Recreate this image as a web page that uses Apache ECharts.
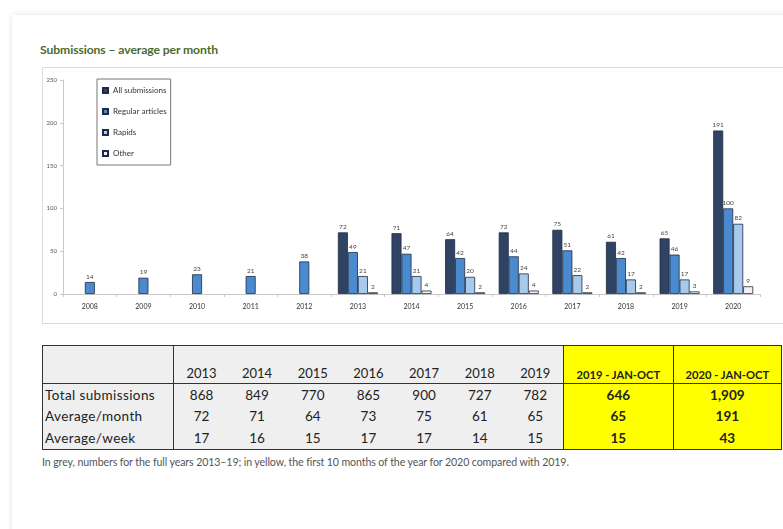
<!DOCTYPE html>
<html>
<head>
<meta charset="utf-8">
<script src="https://cdn.jsdelivr.net/npm/echarts@6/dist/echarts.min.js"></script>
<style>
  html, body { margin:0; padding:0; width:783px; height:529px; overflow:hidden; background:#fff; font-family: Lato, "Open Sans", sans-serif; }
  #card { position:absolute; left:12px; top:15px; width:820px; height:560px; background:#fff; box-shadow:0 0 6px rgba(0,0,0,0.12); }
  #title { position:absolute; left:40px; top:42px; font-size:12.2px; font-weight:bold; color:#4b6b2c; white-space:nowrap; letter-spacing:-0.1px; }
  #chart { position:absolute; left:42px; top:67px; width:760px; height:257px; box-sizing:border-box; border:1px solid #dcdcdc; }
  #tbl { position:absolute; left:42px; top:345px; border-collapse:collapse; table-layout:fixed; font-family: Lato, sans-serif; color:#222; }
  #tbl td { padding:0; text-align:center; white-space:nowrap; overflow:hidden; }
  #tbl { border:1.5px solid #333; }
  #tbl tr.head td { height:35px; vertical-align:bottom; padding-bottom:2px; font-size:13px; border-bottom:1.5px solid #333; }
  #tbl tr.body td { height:21.5px; font-size:13.5px; }
  #tbl td.lab { text-align:left; font-size:16px; letter-spacing:0.4px; padding-left:2px; border-right:1.5px solid #333; }
  #tbl td.g { background:#efefef; }
  #tbl td.y { background:#ffff00; font-weight:bold; font-size:12px; border-left:1.5px solid #333; }
  #tbl tr.head td.y { font-size:11.2px; }
  #note { position:absolute; left:42px; top:456px; font-size:10.6px; color:#555; white-space:nowrap; letter-spacing:-0.1px; }
</style>
</head>
<body>
<div id="card"></div>
<div id="title">Submissions – average per month</div>
<div id="chart"></div>
<table id="tbl"></table>
<div id="note">In grey, numbers for the full years 2013–19; in yellow, the first 10 months of the year for 2020 compared with 2019.</div>
<script>
// ---- chart data ----
const years = ['2008','2009','2010','2011','2012','2013','2014','2015','2016','2017','2018','2019','2020'];
const allSubmissions = [null,null,null,null,null,72,71,64,72,75,61,65,191];
const regularArticles = [14,19,23,21,38,49,47,42,44,51,42,46,100];
const rapids = [null,null,null,null,null,21,21,20,24,22,17,17,82];
const other = [null,null,null,null,null,2,4,2,4,2,2,3,9];
const yTicks = [0,50,100,150,200,250];

// ---- table data ----
const tableYears = ['2013','2014','2015','2016','2017','2018','2019'];
const totalSubs = ['868','849','770','865','900','727','782'];
const avgMonth = ['72','71','64','73','75','61','65'];
const avgWeek = ['17','16','15','17','17','14','15'];
const yellowHeads = ['2019 - JAN-OCT','2020 - JAN-OCT'];
const yellowTotal = ['646','1,909'];
const yellowMonth = ['65','191'];
const yellowWeek = ['15','43'];
const rowLabels = ['Total submissions','Average/month','Average/week'];

// build table
(function(){
  const t = document.getElementById('tbl');
  const cg = document.createElement('colgroup');
  const widths = [131].concat(tableYears.map(()=>55.7)).concat([110,108]);
  widths.forEach(w=>{ const c=document.createElement('col'); c.style.width=w+'px'; cg.appendChild(c); });
  t.appendChild(cg);
  function row(cls, label, greys, yellows){
    const tr = document.createElement('tr'); tr.className = cls;
    const l = document.createElement('td'); l.className='lab g'; l.textContent=label; tr.appendChild(l);
    greys.forEach(v=>{ const d=document.createElement('td'); d.className='g'; d.textContent=v; tr.appendChild(d); });
    yellows.forEach(v=>{ const d=document.createElement('td'); d.className='y'; d.textContent=v; tr.appendChild(d); });
    t.appendChild(tr);
  }
  row('head','',tableYears,yellowHeads);
  row('body',rowLabels[0],totalSubs,yellowTotal);
  row('body',rowLabels[1],avgMonth,yellowMonth);
  row('body',rowLabels[2],avgWeek,yellowWeek);
})();

const regularMain = regularArticles.map((v,i)=> allSubmissions[i]==null ? null : v);
const regularEarly = regularArticles.map((v,i)=> allSubmissions[i]==null ? v : null);

const edge = '#1f2b40';
const label = { show:true, position:'top', fontSize:6.5, color:'#444', distance:2, fontFamily:'Lato, sans-serif' };
const chart = echarts.init(document.getElementById('chart'));
chart.setOption({
  animation:false,
  grid:{ left:20, top:12, bottom:29, right:41 },
  legend:{
    data:['All submissions','Regular articles','Rapids','Other'],
    orient:'vertical', left:54, top:11,
    padding:[6,4,6,5], itemGap:10, itemWidth:5, itemHeight:5,
    borderColor:'#777', borderWidth:1, icon:'rect',
    textStyle:{ fontSize:8, color:'#333', fontFamily:'Lato, sans-serif', padding:[0,0,0,0], lineHeight:11 }
  },
  xAxis:[
    { type:'category', data:years,
      axisLine:{ lineStyle:{ color:'#c8c8c8' } },
      axisTick:{ show:true, length:3, lineStyle:{ color:'#c8c8c8' } },
      axisLabel:{ fontSize:7, color:'#333', margin:9, fontFamily:'Lato, sans-serif' } },
    { type:'category', data:years, show:false }
  ],
  yAxis:{ type:'value', min:0, max:250, interval:50,
    axisLine:{ show:true, lineStyle:{ color:'#c8c8c8' } },
    axisTick:{ show:true, length:3, lineStyle:{ color:'#c8c8c8' } },
    splitLine:{ show:false },
    axisLabel:{ fontSize:6, color:'#555', margin:6, fontFamily:'Lato, sans-serif',
      formatter:(v)=> yTicks.includes(v) ? String(v) : '' } },
  series:[
    { name:'All submissions', type:'bar', data:allSubmissions, barWidth:10, barGap:'0%',
      itemStyle:{ color:'#2f4464', borderColor:edge, borderWidth:0.8 }, label },
    { name:'Regular articles', type:'bar', data:regularMain, barWidth:10, barGap:'0%',
      itemStyle:{ color:'#4a8bd0', borderColor:edge, borderWidth:0.8 }, label },
    { name:'Rapids', type:'bar', data:rapids, barWidth:10, barGap:'0%',
      itemStyle:{ color:'#a7c9ec', borderColor:edge, borderWidth:0.8 }, label },
    { name:'Other', type:'bar', data:other, barWidth:10, barGap:'0%',
      itemStyle:{ color:'#eef1f5', borderColor:edge, borderWidth:0.8 }, label },
    { name:'Regular articles', type:'bar', data:regularEarly, xAxisIndex:1, barWidth:10,
      itemStyle:{ color:'#4a8bd0', borderColor:edge, borderWidth:0.8 }, label }
  ]
});
</script>
</body>
</html>
